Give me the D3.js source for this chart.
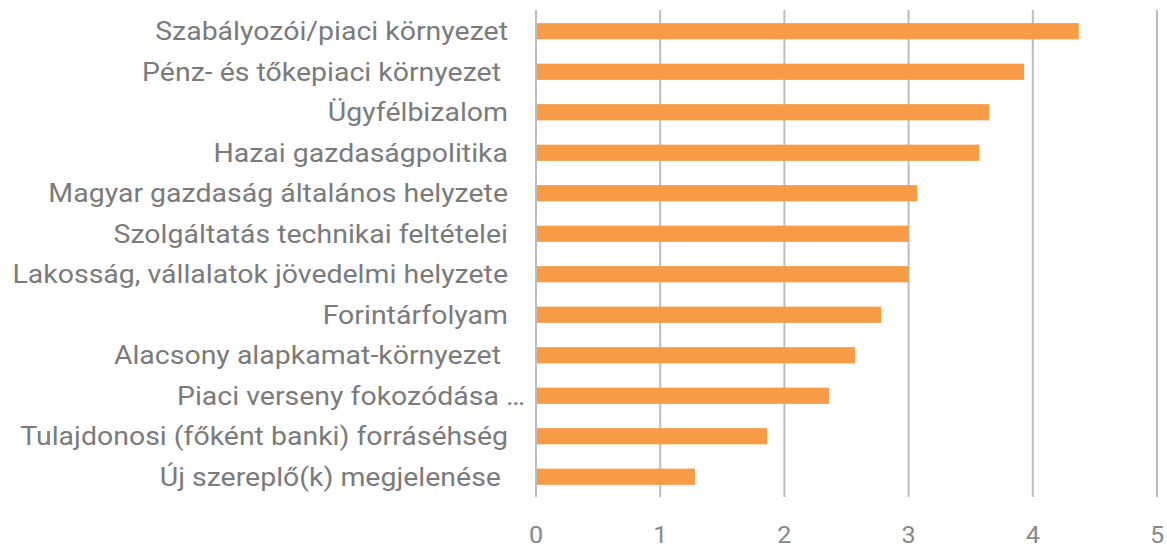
<!DOCTYPE html>
<html>
<head>
<meta charset="utf-8">
<script src="https://cdn.jsdelivr.net/npm/d3@7"></script>
<style>
  body { margin: 0; background: #fff; }
  svg text { white-space: pre; }
</style>
</head>
<body>
<div id="chart"></div>
<script>
// data
const categories = [
  'Szabályozói/piaci környezet',
  'Pénz- és tőkepiaci környezet ',
  'Ügyfélbizalom',
  'Hazai gazdaságpolitika',
  'Magyar gazdaság általános helyzete',
  'Szolgáltatás technikai feltételei',
  'Lakosság, vállalatok jövedelmi helyzete',
  'Forintárfolyam',
  'Alacsony alapkamat-környezet ',
  'Piaci verseny fokozódása …',
  'Tulajdonosi (főként banki) forráséhség',
  'Új szereplő(k) megjelenése '
];
const values = [4.37, 3.93, 3.65, 3.57, 3.07, 3.0, 3.0, 2.78, 2.57, 2.36, 1.86, 1.28];
const xTicks = [0, 1, 2, 3, 4, 5];

const width = 1167, height = 548;
const margin = {top: 11, right: 10, bottom: 51, left: 536};

const svg = d3.select('#chart').append('svg')
    .attr('width', width)
    .attr('height', height)
    .attr('font-family', 'Roboto, sans-serif');

const x = d3.scaleLinear().domain([0, 5]).range([margin.left, width - margin.right]);
const y = d3.scaleBand().domain(categories)
    .range([margin.top, height - margin.bottom])
    .paddingInner(0.6).paddingOuter(0.3);

// gridlines
svg.append('g')
    .selectAll('line')
    .data(xTicks)
    .join('line')
    .attr('x1', (d) => x(d)).attr('x2', (d) => x(d))
    .attr('y1', 10).attr('y2', 497)
    .attr('stroke', '#bdbdbd')
    .attr('stroke-width', 2);

// bars
svg.append('g')
    .selectAll('rect')
    .data(values)
    .join('rect')
    .attr('x', x(0) + 1)
    .attr('y', (d, i) => y(categories[i]))
    .attr('width', (d) => x(d) - x(0) - 1)
    .attr('height', y.bandwidth())
    .attr('fill', '#f79b46');

// category labels (reference text is slightly stretched horizontally;
// the truncated label lets its ellipsis overflow to the right)
svg.append('g')
    .selectAll('text')
    .data(categories)
    .join('text')
    .attr('transform', (d) => {
      const ax = d.endsWith('…') ? 525 : 508;
      return `translate(${ax},${y(d) + y.bandwidth() / 2}) scale(1.095,1)`;
    })
    .attr('dy', '0.35em')
    .attr('text-anchor', 'end')
    .attr('font-size', 26)
    .attr('fill', '#7b7b7b')
    .text((d) => d);

// x tick labels
svg.append('g')
    .selectAll('text')
    .data(xTicks)
    .join('text')
    .attr('transform', (d) => `translate(${x(d)},535) scale(1.05,1)`)
    .attr('dy', '0.35em')
    .attr('text-anchor', 'middle')
    .attr('font-size', 24)
    .attr('fill', '#888')
    .text((d) => d);
</script>
</body>
</html>
